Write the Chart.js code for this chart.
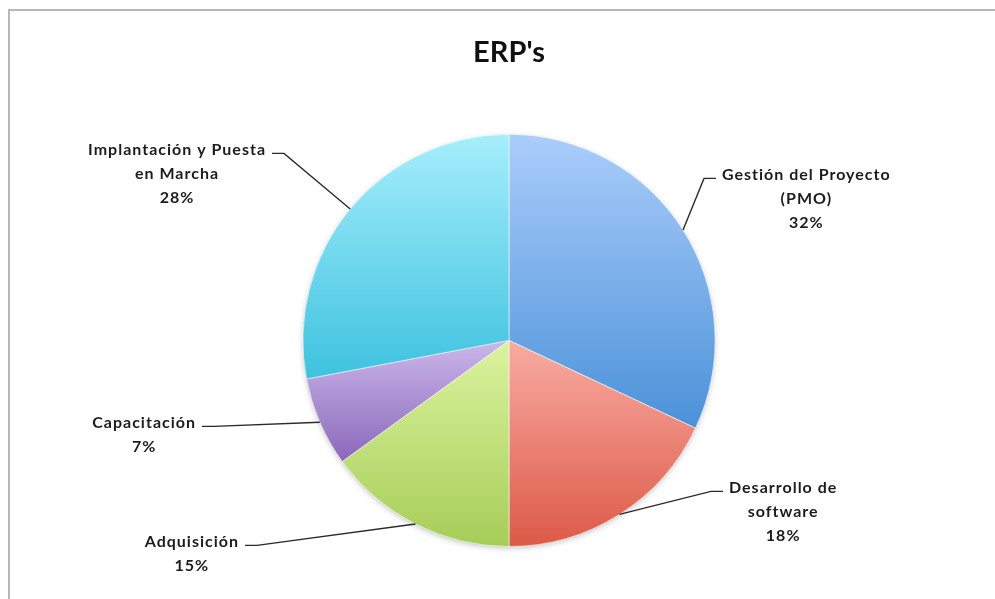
<!DOCTYPE html>
<html>
<head>
<meta charset="utf-8">
<script src="https://cdn.jsdelivr.net/npm/chart.js@4"></script>
<style>
  html, body { margin: 0; padding: 0; background: #fff; overflow: hidden; }
  #wrap { width: 995px; height: 599px; }
</style>
</head>
<body>
<div id="wrap"><canvas id="pieChart" width="995" height="599"></canvas></div>
<script>
// ── DATA ──────────────────────────────────────────────
const categories = [
  ["Gestión del Proyecto", "(PMO)"],
  ["Desarrollo de", "software"],
  ["Adquisición"],
  ["Capacitación"],
  ["Implantación y Puesta", "en Marcha"],
];
const shares = [32, 18, 15, 7, 28];

// ── STYLE ─────────────────────────────────────────────
const topColors    = ["#abcdfb", "#f9aba3", "#dcf39f", "#cbb7ea", "#a6eefc"];
const bottomColors = ["#4b92d8", "#dc5a47", "#a6cd58", "#8a68b9", "#3ec2df"];
const labelFont = "bold 16px Lato";

// where each leader line meets its label, relative to pie centre
const labelAnchors = [
  { dx:  207, dy: -162, side:  1 },
  { dx:  214, dy:  151, side:  1 },
  { dx: -264, dy:  205, side: -1 },
  { dx: -307, dy:   86, side: -1 },
  { dx: -237, dy: -187, side: -1 },
];

// ── PLUGINS ───────────────────────────────────────────
const frame = {
  id: "frame",
  beforeDraw(chart) {
    const c = chart.ctx;
    c.save();
    c.strokeStyle = "#b8b8b8";
    c.lineWidth = 2;
    c.strokeRect(9, 10, 1100, 1100);
    c.restore();
  },
};

const sliceGradients = {
  id: "sliceGradients",
  beforeDatasetsDraw(chart) {
    const c = chart.ctx;
    const arcs = chart.getDatasetMeta(0).data;
    if (arcs.length) {
      // soft shadow under the pie
      const { x, y, outerRadius } = arcs[0].getProps(["x", "y", "outerRadius"], true);
      c.save();
      c.shadowColor = "rgba(0,0,0,0.28)";
      c.shadowBlur = 6;
      c.shadowOffsetY = 2;
      c.fillStyle = "#fff";
      c.beginPath();
      c.arc(x, y, outerRadius - 1, 0, Math.PI * 2);
      c.fill();
      c.restore();
    }
    arcs.forEach((arc, i) => {
      const { x, y, startAngle, endAngle, outerRadius } = arc.getProps(["x", "y", "startAngle", "endAngle", "outerRadius"], true);
      let minY = y, maxY = y;
      for (let k = 0; k <= 40; k++) {
        const a = startAngle + (endAngle - startAngle) * k / 40;
        const py = y + outerRadius * Math.sin(a);
        minY = Math.min(minY, py);
        maxY = Math.max(maxY, py);
      }
      const g = c.createLinearGradient(0, minY, 0, maxY);
      g.addColorStop(0, topColors[i]);
      g.addColorStop(1, bottomColors[i]);
      arc.options.backgroundColor = g;
    });
  },
};

const leaderLabels = {
  id: "leaderLabels",
  afterDatasetsDraw(chart) {
    const c = chart.ctx;
    const meta = chart.getDatasetMeta(0);
    c.save();
    c.font = labelFont;
    c.letterSpacing = "1px";
    c.fillStyle = "#1c1c1c";
    c.strokeStyle = "#2a2a2a";
    c.lineWidth = 1.4;
    c.textBaseline = "middle";
    c.textAlign = "center";
    meta.data.forEach((arc, i) => {
      const { x, y, startAngle, endAngle, outerRadius } = arc.getProps(["x", "y", "startAngle", "endAngle", "outerRadius"], true);
      const mid = (startAngle + endAngle) / 2;
      const ex = x + outerRadius * Math.cos(mid);
      const ey = y + outerRadius * Math.sin(mid);
      const a = labelAnchors[i];
      const ax = x + a.dx, ay = y + a.dy;
      const tx = ax - a.side * 12;

      c.beginPath();
      c.moveTo(ex, ey);
      c.lineTo(tx, ay);
      c.lineTo(ax, ay);
      c.stroke();

      const lines = categories[i].concat([shares[i] + "%"]);
      const w = Math.max(...lines.map(l => c.measureText(l).width));
      const cx = ax + a.side * (6 + w / 2);
      lines.forEach((l, j) => c.fillText(l, cx, ay - 4 + j * 24));
    });
    c.restore();
  },
};

// ── CHART ─────────────────────────────────────────────
new Chart(document.getElementById("pieChart").getContext("2d"), {
  type: "pie",
  data: {
    labels: categories.map(l => l.join(" ")),
    datasets: [{
      data: shares,
      backgroundColor: (ctx) => topColors[ctx.dataIndex],
      borderColor: "rgba(255,255,255,0.55)",
      borderWidth: 1,
    }],
  },
  options: {
    responsive: false,
    animation: false,
    layout: { padding: { top: 10, left: 302, right: 279, bottom: 52 } },
    plugins: {
      legend: { display: false },
      tooltip: { enabled: false },
      title: {
        display: true,
        text: "ERP's",
        color: "#111",
        font: { family: "Lato", size: 29, weight: "bold" },
        padding: { top: 25, bottom: 64 },
      },
    },
  },
  plugins: [frame, sliceGradients, leaderLabels],
});
</script>
</body>
</html>
